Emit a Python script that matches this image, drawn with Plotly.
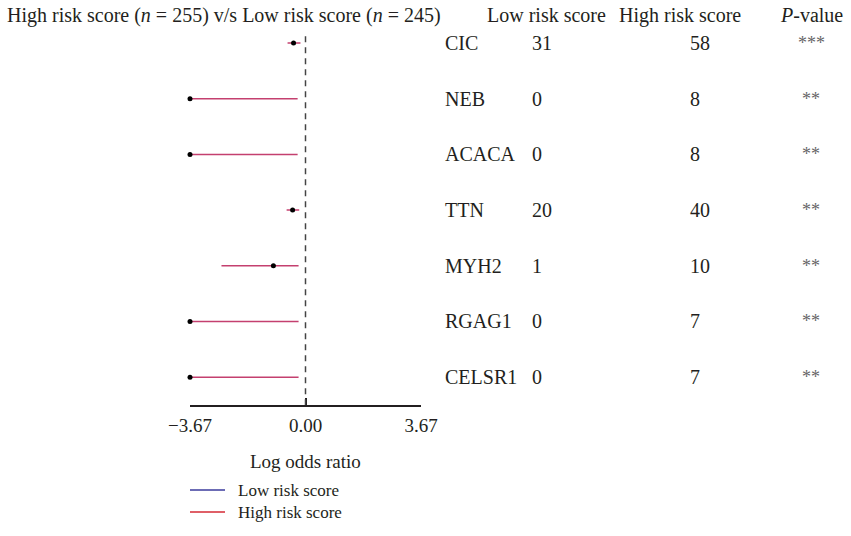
import plotly.graph_objects as go

genes = ["CIC", "NEB", "ACACA", "TTN", "MYH2", "RGAG1", "CELSR1"]
low_counts = [31, 0, 0, 20, 1, 0, 0]
high_counts = [58, 8, 8, 40, 10, 7, 7]
pvals = ["***", "**", "**", "**", "**", "**", "**"]
log_or = [-0.38, -3.67, -3.67, -0.41, -1.02, -3.67, -3.67]
ci_low = [-0.57, -3.67, -3.67, -0.60, -2.67, -3.67, -3.67]
ci_high = [-0.16, -0.25, -0.25, -0.20, -0.22, -0.22, -0.22]
x_ticks = [-3.67, 0.0, 3.67]
x_ticklabels = ["\u22123.67", "0.00", "3.67"]
legend_names = ["Low risk score", "High risk score"]
legend_colors = ["#3b3b9c", "#d42a35"]

W, H = 851, 536
FONT = "Liberation Serif"
FS = 20
TXT = "#231f20"
rows = list(range(len(genes)))


def px_x(p):
    return p / W


def px_y(p):
    return 1 - p / H


fig = go.Figure()

# CI lines
for i in rows:
    fig.add_trace(go.Scatter(
        x=[ci_low[i], ci_high[i]], y=[i, i], mode="lines",
        line=dict(color="#c4406f", width=1.5), showlegend=False,
        hoverinfo="skip", cliponaxis=False))

# point estimates
fig.add_trace(go.Scatter(
    x=log_or, y=rows, mode="markers",
    marker=dict(color="black", size=5), showlegend=False, cliponaxis=False))

# dashed zero line
fig.add_shape(type="line", xref="x", yref="y", x0=0, x1=0, y0=-0.12, y1=6.5,
              line=dict(color="#444444", width=1.5, dash="6px,5px"))

# column texts
for i in rows:
    fig.add_annotation(x=px_x(443), y=i, xref="paper", yref="y", text=genes[i],
                       showarrow=False, xanchor="left", yanchor="middle")
    fig.add_annotation(x=px_x(530), y=i, xref="paper", yref="y", text=str(low_counts[i]),
                       showarrow=False, xanchor="left", yanchor="middle")
    fig.add_annotation(x=px_x(688), y=i, xref="paper", yref="y", text=str(high_counts[i]),
                       showarrow=False, xanchor="left", yanchor="middle")
    fig.add_annotation(x=px_x(811), y=i, xref="paper", yref="y", text=pvals[i],
                       showarrow=False, xanchor="center", yanchor="middle",
                       font=dict(color="#666666", size=18))

headers = [
    (5, "High risk score (<i>n</i> = 255) v/s Low risk score (<i>n</i> = 245)"),
    (485, "Low risk score"),
    (617, "High risk score"),
    (778, "<i>P</i>-value"),
]
for xp, t in headers:
    fig.add_annotation(x=px_x(xp), y=px_y(15), xref="paper", yref="paper", text=t,
                       showarrow=False, xanchor="left", yanchor="middle")

# axis title
fig.add_annotation(x=0, y=px_y(461), xref="x", yref="paper", text="Log odds ratio",
                   showarrow=False, xanchor="center", yanchor="middle",
                   font=dict(size=19))

# manual legend: sample lines + one two-line text block
LEG_FS = 17
line_gap = LEG_FS * 1.3
y_mid = 501
for k, col in enumerate(legend_colors):
    yy = px_y(y_mid + (k - 0.5) * line_gap)
    fig.add_shape(type="line", xref="paper", yref="paper",
                  x0=px_x(190), x1=px_x(225), y0=yy, y1=yy,
                  line=dict(color=col, width=1.5))
fig.add_annotation(x=px_x(236), y=px_y(y_mid), xref="paper", yref="paper",
                   text="<br>".join(legend_names), align="left",
                   showarrow=False, xanchor="left", yanchor="middle",
                   font=dict(size=LEG_FS))

fig.update_layout(
    width=W, height=H,
    margin=dict(l=0, r=0, t=0, b=0, autoexpand=False),
    paper_bgcolor="white", plot_bgcolor="white",
    font=dict(family=FONT, size=FS, color=TXT),
    showlegend=False,
    xaxis=dict(
        domain=[px_x(190), px_x(421)],
        range=[-3.67, 3.67], showgrid=False, zeroline=False,
        showline=True, linecolor=TXT, linewidth=1.5,
        tickvals=x_ticks, ticktext=x_ticklabels,
        ticks="inside", ticklen=7, tickcolor=TXT, tickwidth=1.5,
        tickfont=dict(size=19), ticklabelstandoff=2,
        automargin=False, anchor="y",
    ),
    yaxis=dict(
        domain=[px_y(405), px_y(15.2)],
        range=[6.5, -0.5], visible=False, automargin=False,
    ),
)

fig.write_html("out.html")
